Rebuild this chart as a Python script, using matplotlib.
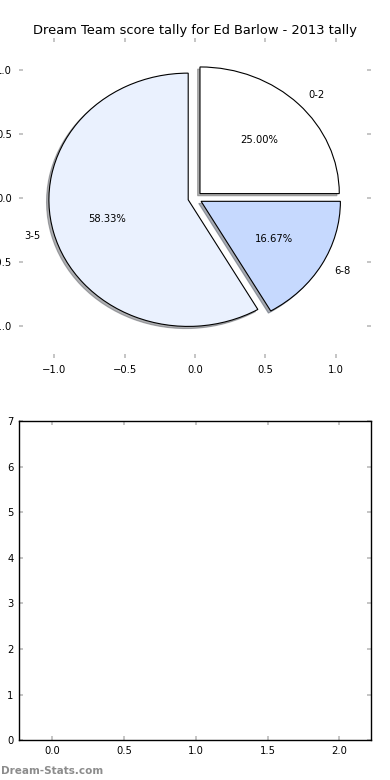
import matplotlib
matplotlib.use("Agg")
import matplotlib.pyplot as plt

# --- Data ---
labels = ['0-2', '3-5', '6-8']
counts = [3, 7, 2]
colours = ['#FFFFFF', '#EAF1FE', '#C6D9FE']
explode = [0.05, 0.05, 0.05]
title = "Dream Team score tally for Ed Barlow - 2013 tally"

pie_ticks = [-1.0, -0.5, 0.0, 0.5, 1.0]
bar_yticks = [0, 1, 2, 3, 4, 5, 6, 7]
bar_xticks = [0.0, 0.5, 1.0, 1.5, 2.0]

plt.rcParams['font.size'] = 7.2

fig = plt.figure(figsize=(3.9, 7.8), dpi=100)

# --- Pie (old-style: frame off, ticks kept) ---
ax1 = fig.add_axes([0.049, 0.541, 0.902, 0.410])
wedges, texts, autotexts = ax1.pie(counts, labels=labels, colors=colours, explode=explode,
                                   autopct='%1.2f%%', frame=True, radius=0.99,
                                   shadow={'ox': -0.012, 'oy': -0.012, 'shade': 0.6},
                                   wedgeprops={'edgecolor': 'black', 'linewidth': 0.8})
ax1.set_aspect('auto')
ax1.set_frame_on(False)
ax1.set_xlim(-1.25, 1.25)
ax1.set_ylim(-1.25, 1.25)
ax1.set_xticks(pie_ticks)
ax1.set_yticks(pie_ticks)
ax1.set_xticklabels(['\u22121.0', '\u22120.5', '0.0', '0.5', '1.0'])
ax1.set_yticklabels(['\u22121.0', '\u22120.5', '0.0', '0.5', '1.0'])
ax1.tick_params(direction='in', color='#BBBBBB', length=3, width=1.2,
                top=True, right=True, pad=5)
ax1.set_title(title, fontsize=9.4, pad=3)

# --- Empty bottom axes ---
ax2 = fig.add_axes([0.049, 0.051, 0.902, 0.409])
ax2.set_xlim(-0.23, 2.22)
ax2.set_ylim(0, 7)
ax2.set_xticks(bar_xticks)
ax2.set_yticks(bar_yticks)
ax2.tick_params(direction='in', color='#BBBBBB', length=3, width=1.2,
                top=True, right=True, pad=4)
for s in ax2.spines.values():
    s.set_linewidth(1.0)

fig.text(0.002, 0.008, 'Dream-Stats.com', color='#8C8C8C', fontsize=7.5, fontweight='bold')

plt.savefig('out.png', dpi=100)
plt.close()
